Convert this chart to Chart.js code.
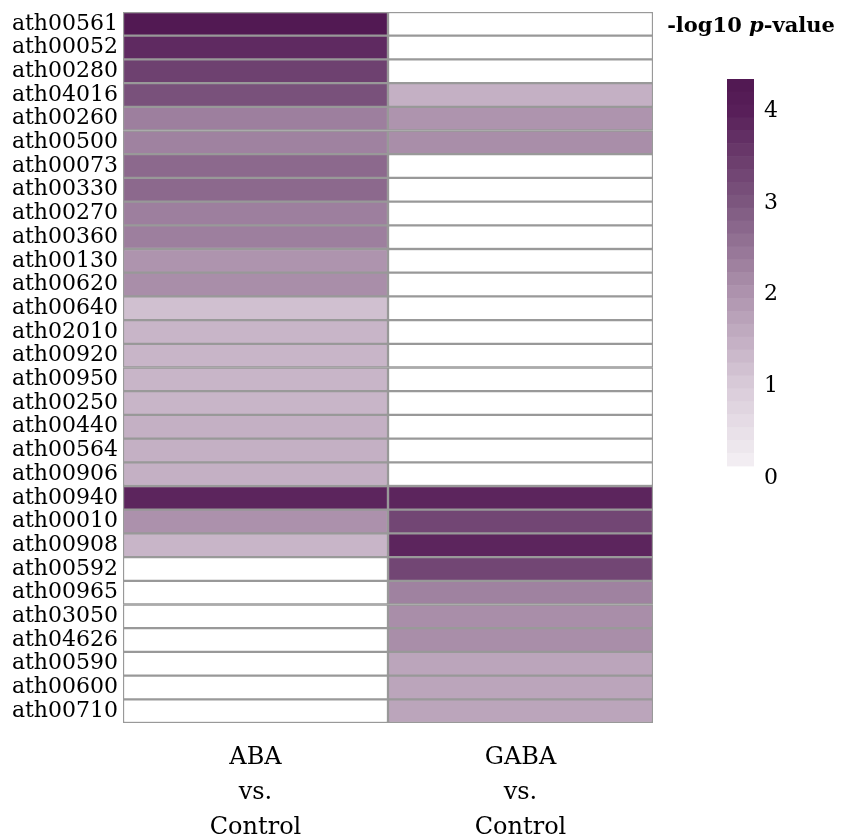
<!DOCTYPE html>
<html>
<head>
<meta charset="utf-8">
<script src="https://cdn.jsdelivr.net/npm/chart.js@4"></script>
<style>
  html, body { margin: 0; padding: 0; background: #fff; }
  #wrap { position: relative; width: 841px; height: 836px; }
  #heat { position: absolute; left: 0; top: 0; width: 841px; height: 836px; }
  #bar { position: absolute; left: 700px; top: 60px; width: 141px; height: 440px; }
</style>
</head>
<body>
<div id="wrap">
  <canvas id="heat" width="841" height="836"></canvas>
  <canvas id="bar" width="141" height="440"></canvas>
</div>
<script>
// KEGG pathways (rows, top to bottom)
const pathways = [
  'ath00561', 'ath00052', 'ath00280', 'ath04016', 'ath00260', 'ath00500',
  'ath00073', 'ath00330', 'ath00270', 'ath00360', 'ath00130', 'ath00620',
  'ath00640', 'ath02010', 'ath00920', 'ath00950', 'ath00250', 'ath00440',
  'ath00564', 'ath00906', 'ath00940', 'ath00010', 'ath00908', 'ath00592',
  'ath00965', 'ath03050', 'ath04626', 'ath00590', 'ath00600', 'ath00710'
];

const comparisons = [['ABA', 'vs.', 'Control'], ['GABA', 'vs.', 'Control']];

// -log10 p-values, null = not enriched (white cell)
const abaValues = [
  4.3, 3.8, 3.4, 3.1, 2.35, 2.3,
  2.7, 2.7, 2.35, 2.35, 2.0, 2.1,
  1.2, 1.4, 1.4, 1.4, 1.4, 1.5,
  1.5, 1.5, 3.9, 2.05, 1.4, null,
  null, null, null, null, null, null
];
const gabaValues = [
  null, null, null, 1.5, 2.0, 2.1,
  null, null, null, null, null, null,
  null, null, null, null, null, null,
  null, null, 3.9, 3.3, 3.9, 3.3,
  2.3, 2.1, 2.1, 1.7, 1.7, 1.7
];

// colour legend
const legendTicks = [0, 1, 2, 3, 4];
const legendMin = 0.13;
const legendMax = 4.35;
const legendSteps = 30;

const rampValues = [0, 1, 2, 3, 4, 4.35];
const rampColors = ['#f8f5f8', '#d9cbd9', '#ae94ae', '#7d577f', '#581f59', '#511852'];

const family = '"DejaVu Serif", "Liberation Serif", serif';

function hexToRgb(h) {
  return [1, 3, 5].map(i => parseInt(h.slice(i, i + 2), 16));
}

function colorFor(v) {
  if (v === null || v === undefined) return '#ffffff';
  if (v <= rampValues[0]) return rampColors[0];
  for (let i = 1; i < rampValues.length; i++) {
    if (v <= rampValues[i]) {
      const t = (v - rampValues[i - 1]) / (rampValues[i] - rampValues[i - 1]);
      const a = hexToRgb(rampColors[i - 1]);
      const b = hexToRgb(rampColors[i]);
      const c = a.map((x, k) => Math.round(x + (b[k] - x) * t));
      return `rgb(${c[0]},${c[1]},${c[2]})`;
    }
  }
  return rampColors[rampColors.length - 1];
}

// legend title with italic p
const titlePlugin = {
  id: 'legendTitle',
  afterDraw(chart) {
    const ctx = chart.ctx;
    const parts = [
      ['-log10 ', 'bold 21px ' + family],
      ['p', 'italic bold 21px ' + family],
      ['-value', 'bold 21px ' + family]
    ];
    ctx.save();
    ctx.fillStyle = '#000';
    ctx.textBaseline = 'middle';
    let total = 0;
    parts.forEach(p => { ctx.font = p[1]; total += ctx.measureText(p[0]).width; });
    let x = 751 - total / 2;
    parts.forEach(p => {
      ctx.font = p[1];
      ctx.fillText(p[0], x, 27);
      x += ctx.measureText(p[0]).width;
    });
    ctx.restore();
  }
};

new Chart(document.getElementById('heat'), {
  type: 'bar',
  data: {
    labels: pathways,
    datasets: [
      {
        label: 'ABA vs. Control',
        data: pathways.map(() => [0, 1]),
        backgroundColor: abaValues.map(colorFor)
      },
      {
        label: 'GABA vs. Control',
        data: pathways.map(() => [1, 2]),
        backgroundColor: gabaValues.map(colorFor)
      }
    ]
  },
  options: {
    indexAxis: 'y',
    responsive: false,
    animation: false,
    layout: { padding: { top: 12, right: 188, left: 0, bottom: 0 } },
    datasets: {
      bar: {
        grouped: false,
        barPercentage: 1,
        categoryPercentage: 1,
        borderColor: '#999999',
        borderWidth: 1.5,
        borderSkipped: false
      }
    },
    plugins: { legend: { display: false }, tooltip: { enabled: false } },
    scales: {
      x: {
        type: 'linear',
        min: 0,
        max: 2,
        grid: { display: false, drawTicks: false },
        border: { display: false },
        afterBuildTicks: s => { s.ticks = [{ value: 0.5 }, { value: 1.5 }]; },
        ticks: {
          callback: (v, i) => comparisons[i],
          font: { family, size: 24, lineHeight: 1.46 },
          color: '#000',
          padding: 17,
          maxRotation: 0,
          autoSkip: false
        },
        afterFit: s => { s.height = 113; s.paddingLeft = 0; s.paddingRight = 0; }
      },
      y: {
        type: 'category',
        grid: { display: false, drawTicks: false },
        border: { display: false },
        ticks: { font: { family, size: 22 }, color: '#000', padding: 5, autoSkip: false },
        afterFit: s => { s.width = 123; s.paddingTop = 0; s.paddingBottom = 0; }
      }
    }
  },
  plugins: [titlePlugin]
});

// stepped colour bar
const bands = [];
for (let i = 0; i < legendSteps; i++) {
  const lo = legendMin + i * (legendMax - legendMin) / legendSteps;
  const hi = legendMin + (i + 1) * (legendMax - legendMin) / legendSteps;
  bands.push([lo, hi]);
}

new Chart(document.getElementById('bar'), {
  type: 'bar',
  data: {
    labels: [''],
    datasets: bands.map(b => ({
      data: [b],
      backgroundColor: colorFor((b[0] + b[1]) / 2),
      borderWidth: 0,
      grouped: false,
      barPercentage: 1,
      categoryPercentage: 1
    }))
  },
  options: {
    responsive: false,
    animation: false,
    layout: { padding: { top: 19, left: 27, bottom: 22, right: 0 } },
    plugins: { legend: { display: false }, tooltip: { enabled: false } },
    scales: {
      x: { display: false },
      y: {
        position: 'right',
        min: 0,
        max: legendMax,
        grid: { display: false, drawTicks: false },
        border: { display: false },
        afterBuildTicks: s => { s.ticks = legendTicks.map(v => ({ value: v })); },
        ticks: { font: { family, size: 22 }, color: '#000', padding: 10 },
        afterFit: s => { s.width = 87; s.paddingTop = 0; s.paddingBottom = 0; }
      }
    }
  }
});
</script>
</body>
</html>
